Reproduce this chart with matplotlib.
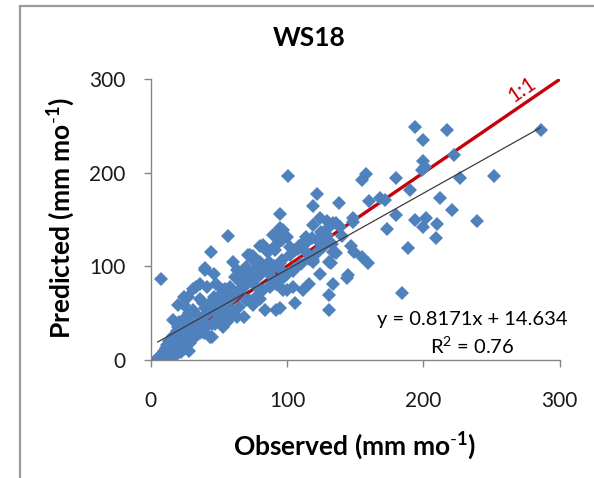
import numpy as np
import matplotlib
matplotlib.use('Agg')
import matplotlib.pyplot as plt
from matplotlib.patches import Rectangle

plt.rcParams['font.family'] = ['Lato', 'DejaVu Sans']
plt.rcParams['mathtext.fontset'] = 'custom'
plt.rcParams['mathtext.rm'] = 'Lato'
plt.rcParams['mathtext.bf'] = 'Lato:bold'

# observed / predicted monthly values (mm mo-1)
obs = [
    194, 217.6, 286, 200, 222.5, 200, 201, 199, 101, 158, 155, 180, 227, 252, 190,
    122, 168, 172, 138, 160, 119, 212, 221, 94.5, 180, 148, 194, 202, 200, 210,
    239, 173, 209, 189, 56.5, 44, 60, 7.6, 184, 131, 131, 134, 132, 145, 144,
    147, 149, 155, 159, 134, 136, 119, 116, 112, 106, 95, 92, 68, 45, 53,
    124, 129, 134, 119, 138.7, 114, 121.7, 129, 109, 114, 80, 84.4, 75, 70, 87,
    94.8, 119, 131, 124, 104, 99.7, 94.8, 89.9, 99.7, 148,
    39.8, 46, 72.8, 82.5, 85, 94.8, 96, 91, 80, 82.5, 89, 94.8, 36, 41, 53,
    58, 63, 70, 77.6, 31, 36, 46, 87.5, 92, 97,
    71, 75, 82.6, 86, 97, 91, 94, 86, 89, 63, 68, 73, 48, 54.5, 51,
    65.5, 70, 75, 80, 84, 100, 104.6, 122, 126, 129, 33, 40, 24, 20, 16.6,
    20, 29, 36, 43.5, 58, 63, 31, 38.6, 46, 53, 58,
    5, 7, 8, 9, 10, 10, 11, 12, 12, 13, 13, 14, 14, 15, 15,
    16, 16, 17, 17, 18, 18, 19, 19, 20, 20, 21, 21, 22, 22, 23,
    23, 24, 24, 25, 25, 26, 26, 27, 27, 28, 28, 29, 29, 30, 30,
    35, 38, 42, 45, 48, 50, 52, 55, 57, 60, 62, 65, 67, 70, 72,
    75, 78, 80, 82, 85, 88, 90, 93, 96, 98, 102, 105, 108, 110, 113,
    116, 118, 121, 125, 127, 130, 133, 136, 140, 112, 106, 102, 66, 62, 74,
    78, 55, 50, 44, 40, 34, 32, 37, 41, 26, 28, 24, 22, 33, 39,
    47, 56, 60,
]
pred = [
    249, 246, 245.6, 235, 219, 212, 206, 203, 196, 199, 192, 194, 194, 196, 182,
    177, 173, 171, 168, 170, 164, 173, 160, 156, 155, 151, 149, 151, 142, 145,
    148.5, 140, 130, 119, 132, 115, 104, 86, 71, 69, 53, 81, 103, 90, 87,
    121, 115, 110, 103, 115, 113.5, 106, 81, 74, 60, 55, 53, 46, 24, 35,
    151, 148, 146, 144, 142, 131, 128, 133, 121, 115.6, 122, 117, 110.5, 99, 104,
    97, 104, 104, 92, 95, 92, 140.5, 133.6, 131, 147.5,
    97.5, 92, 111.7, 122.4, 117, 136.8, 128, 121, 104, 96.8, 96.8, 103, 81, 78, 74,
    78, 71, 85, 78, 76, 65, 67, 78, 81, 74,
    112, 106, 121, 115, 138.5, 117, 130, 96, 88.5, 96, 90, 85, 81, 76, 60,
    74, 63.5, 58, 65, 53, 74, 78, 113.5, 120.7, 128, 78, 96, 67, 58, 42,
    35, 31, 28, 24, 44, 46, 53, 60, 53, 56, 63.5,
    2, 4, 1, 6, 3, 9, 12, 5, 15, 8, 20, 3, 11, 17, 7,
    25, 13, 4, 9, 22, 15, 6, 30, 12, 19, 40, 26, 8, 16, 33,
    21, 11, 58, 27, 18, 14, 37, 22, 67, 30, 9, 18, 40, 25, 35,
    40, 45, 50, 38, 58, 45, 62, 50, 66, 52, 70, 56, 77, 80, 64,
    84, 68, 90, 74, 95, 80, 100, 84, 107, 88, 112, 97, 118, 102, 124,
    108, 130, 114, 137, 121, 141, 124, 146, 132, 125, 117, 120, 82, 88, 92,
    98, 70, 68, 62, 55, 48, 36, 33, 36, 45, 50, 38, 30, 25, 28,
    38, 40, 50,
]

# trendline as reported on the chart
slope = 0.8171
intercept = 14.634
r2 = 0.76

ticks = [0, 100, 200, 300]

blue = '#4F81BD'
red = '#C8000A'
axis_grey = '#868686'

W, H = 594, 478
fig = plt.figure(figsize=(W / 100, H / 100), dpi=100)
fig.patch.set_facecolor('white')

# chart-area border (Excel frame, partly cut off)
fig.add_artist(Rectangle((20 / W, -0.05), 1.2, 1.05 - 6 / H, transform=fig.transFigure,
                         fill=False, edgecolor='#9a9a9a', lw=1.6))

ax = fig.add_axes([150.8 / W, 1 - 359.5 / H, 409 / W, 280.2 / H])

# 1:1 line, drawn under the points
ax.plot([0, 300], [0, 300], color=red, lw=2.4, zorder=1, solid_capstyle='butt')
ax.text(272, 289, '1:1', color=red, fontsize=15, rotation=34.4,
        ha='center', va='center', rotation_mode='anchor')

ax.plot(obs, pred, linestyle='none', marker='D', markersize=6.7,
        color=blue, markeredgewidth=0, zorder=2)

# linear trendline
xs = np.array([min(obs), max(obs)])
ax.plot(xs, slope * xs + intercept, color='#3c3c3c', lw=0.9, zorder=4)

ax.text(0.7865, 0.144, 'y = {:.4f}x + {:.3f}'.format(slope, intercept),
        transform=ax.transAxes, ha='center', va='center', fontsize=14.5)
ax.text(0.7865, 0.0475, r'R$^2$ = {:.2f}'.format(r2),
        transform=ax.transAxes, ha='center', va='center', fontsize=14.5)

ax.set_xlim(0, 300)
ax.set_ylim(0, 300)
ax.set_xticks(ticks)
ax.set_yticks(ticks)
ax.tick_params(axis='both', direction='out', length=5, width=1, color=axis_grey,
               labelsize=15, labelcolor='#1a1a1a')
ax.tick_params(axis='x', pad=18)
ax.tick_params(axis='y', pad=13)

for side in ['top', 'right']:
    ax.spines[side].set_visible(False)
for side in ['left', 'bottom']:
    ax.spines[side].set_color(axis_grey)
    ax.spines[side].set_linewidth(1)

ax.set_xlabel(r'Observed (mm mo$^{\text{-}\mathbf{1}}$)', fontsize=19, fontweight='bold')
ax.set_ylabel(r'Predicted (mm mo$^{\text{-}\mathbf{1}}$)', fontsize=19, fontweight='bold')
ax.xaxis.set_label_coords(0.499, -0.306)
ax.xaxis.label.set_va('center')
ax.yaxis.set_label_coords(-0.2196, 0.5046)
ax.yaxis.label.set_va('center')

fig.text(309 / W, 1 - 38 / H, 'WS18', ha='center', va='center',
         fontsize=19, fontweight='bold')

fig.savefig('out.png', dpi=100, facecolor='white')
